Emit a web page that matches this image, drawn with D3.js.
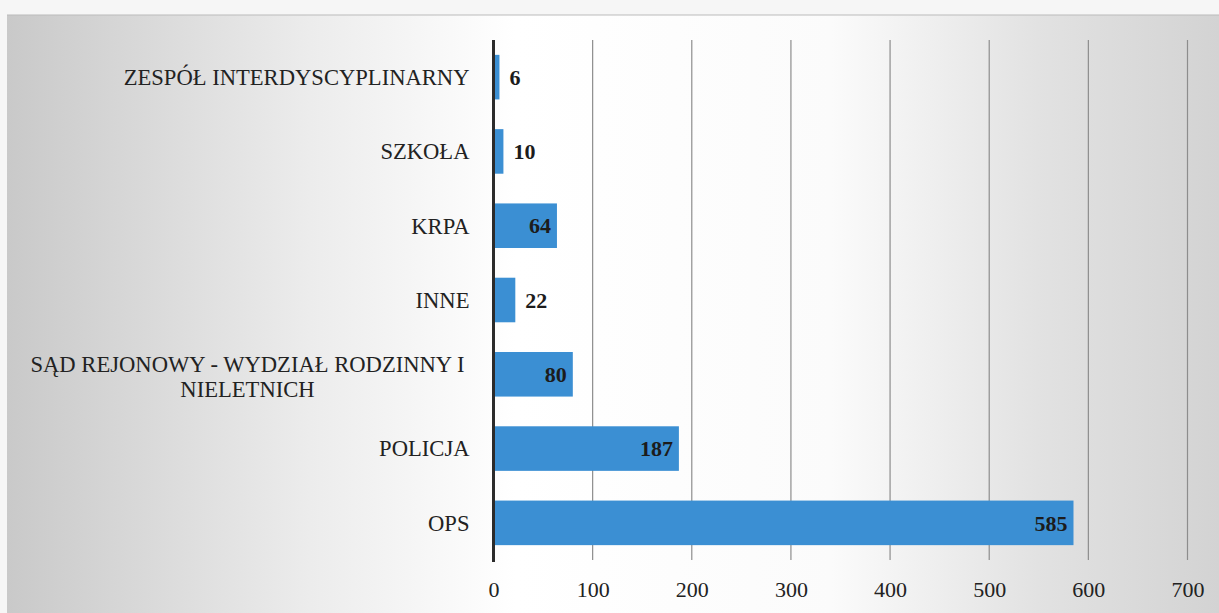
<!DOCTYPE html>
<html>
<head>
<meta charset="utf-8">
<script src="https://cdn.jsdelivr.net/npm/d3@7"></script>
<style>
  body { margin: 0; background: #fafafa; }
</style>
</head>
<body>
<svg width="1219" height="613" style="font-family: 'Liberation Serif', 'DejaVu Serif', serif"></svg>
<script>
var categories = ['ZESPÓŁ INTERDYSCYPLINARNY', 'SZKOŁA', 'KRPA', 'INNE',
    'SĄD REJONOWY - WYDZIAŁ RODZINNY I|NIELETNICH', 'POLICJA', 'OPS'];
var values = [6, 10, 64, 22, 80, 187, 585];
var xTicks = [0, 100, 200, 300, 400, 500, 600, 700];

var serif = "'Liberation Serif', 'DejaVu Serif', serif";
var svg = d3.select('svg');
var plotLeft = 493.5, plotRight = 1187.5, plotTop = 40, plotBottom = 560;

// scanned page background: grey at the edges, white in the middle
var defs = svg.append('defs');
var grad = defs.append('linearGradient').attr('id', 'bg');
grad.append('stop').attr('offset', '0%').attr('stop-color', '#c9c9c9');
grad.append('stop').attr('offset', '25%').attr('stop-color', '#ececec');
grad.append('stop').attr('offset', '42%').attr('stop-color', '#ffffff');
grad.append('stop').attr('offset', '68%').attr('stop-color', '#fbfbfb');
grad.append('stop').attr('offset', '85%').attr('stop-color', '#e2e2e2');
grad.append('stop').attr('offset', '100%').attr('stop-color', '#d3d3d3');

svg.append('rect').attr('x', 0).attr('y', 0).attr('width', 1219).attr('height', 613).attr('fill', '#f6f6f6');
svg.append('rect').attr('x', 7).attr('y', 15).attr('width', 1212).attr('height', 598)
    .attr('fill', 'url(#bg)');
svg.append('line').attr('x1', 7).attr('x2', 1219).attr('y1', 15).attr('y2', 15)
    .attr('stroke', '#bbb').attr('stroke-width', 1);

var x = d3.scaleLinear().domain([0, 700]).range([plotLeft, plotRight]);
var y = d3.scaleBand().domain(categories).range([plotTop, plotBottom]).paddingInner(0.4).paddingOuter(0.2);

// gridlines
svg.append('g').selectAll('line').data(xTicks.slice(1)).enter().append('line')
    .attr('x1', function (d) { return x(d); })
    .attr('x2', function (d) { return x(d); })
    .attr('y1', plotTop).attr('y2', plotBottom)
    .attr('stroke', '#8d8d8d').attr('stroke-width', 1.2);

// bars
svg.append('g').selectAll('rect').data(values).enter().append('rect')
    .attr('x', x(0))
    .attr('y', function (d, i) { return y(categories[i]); })
    .attr('width', function (d) { return x(d) - x(0); })
    .attr('height', y.bandwidth())
    .attr('fill', '#3b8fd3');

// x axis tick labels
var xAxis = d3.axisBottom(x).tickValues(xTicks).tickSize(0).tickPadding(21);
var gx = svg.append('g').attr('transform', 'translate(0,' + plotBottom + ')').call(xAxis);
gx.attr('font-family', serif).attr('font-size', 22);
gx.select('.domain').remove();
gx.selectAll('text').attr('fill', '#222');

// y axis with category labels
var yAxis = d3.axisLeft(y).tickSize(0).tickPadding(24).tickFormat(function () { return ''; });
var gy = svg.append('g').attr('transform', 'translate(' + plotLeft + ',0)').call(yAxis);
gy.attr('font-family', serif).attr('font-size', 22.6);
gy.select('.domain').remove();
gy.selectAll('.tick').each(function (d) {
    var lines = d.split('|');
    var t = d3.select(this).append('text').attr('fill', '#222');
    if (lines.length === 1) {
        t.attr('text-anchor', 'end').attr('x', -24).attr('dy', '0.35em').text(lines[0]);
    } else {
        t.attr('text-anchor', 'middle');
        lines.forEach(function (s, k) {
            t.append('tspan').attr('x', -246).attr('dy', k === 0 ? '-0.12em' : '1.12em').text(s);
        });
    }
});

// axis line
svg.append('line').attr('x1', plotLeft).attr('x2', plotLeft).attr('y1', plotTop).attr('y2', plotBottom + 2)
    .attr('stroke', '#2b2b2b').attr('stroke-width', 3);

// value labels
svg.append('g').attr('font-family', serif).selectAll('text').data(values).enter().append('text')
    .attr('x', function (d) { return x(d) - x(0) > 50 ? x(d) - 6 : x(d) + 10; })
    .attr('y', function (d, i) { return y(categories[i]) + y.bandwidth() / 2; })
    .attr('dy', '0.35em')
    .attr('text-anchor', function (d) { return x(d) - x(0) > 50 ? 'end' : 'start'; })
    .attr('font-size', 22).attr('font-weight', 'bold').attr('fill', '#1c1c1c')
    .text(function (d) { return d; });
</script>
</body>
</html>
